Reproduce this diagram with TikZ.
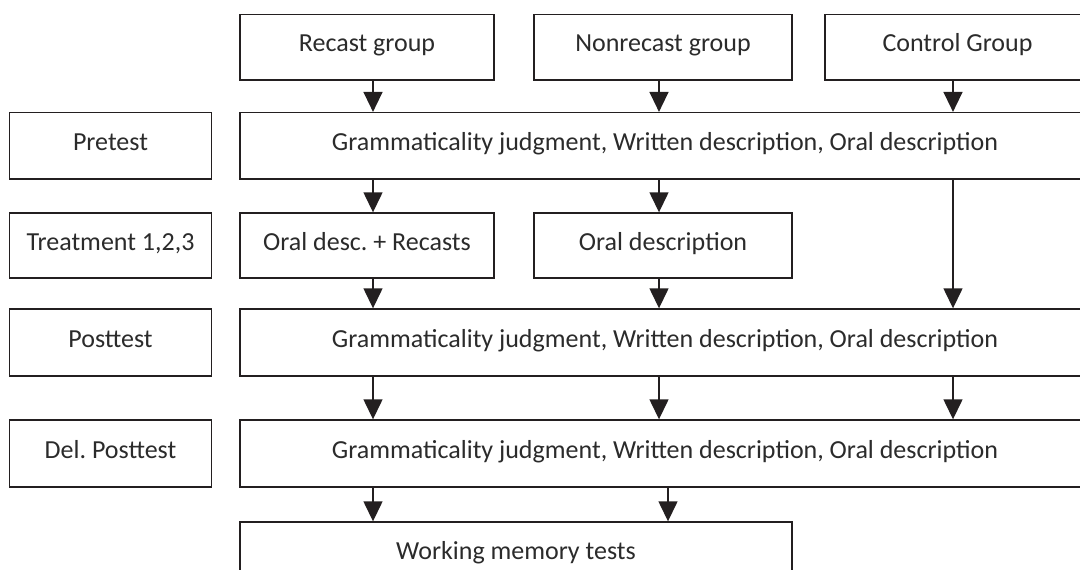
\documentclass[tikz,border=0pt]{standalone}
\usepackage{fontspec}
\setmainfont{Carlito}
\usetikzlibrary{arrows.meta,calc}
\frenchspacing
\definecolor{ink}{HTML}{231F20}
\definecolor{txt}{HTML}{2B2B2B}
\tikzset{
  box/.style={draw=ink, line width=1.4pt, inner sep=0pt, text=txt,
    font=\fontsize{26}{30}\selectfont, text height=16pt, text depth=7pt},
  arr/.style={draw=ink, line width=1.4pt, -{Triangle[length=20pt,width=19pt]}}
}
\begin{document}
\begin{tikzpicture}[x=1pt,y=-1pt]
\useasboundingbox (0,0) rectangle (1080,570);
\clip (0,0) rectangle (1080,570);
\fill[white] (0,0) rectangle (1080,570);
% columns of arrows
\coordinate (xa) at (373,0);
\coordinate (xb) at (659,0);
\coordinate (xc) at (953,0);
\coordinate (xd) at (668,0);
% top row
\node[box, minimum width=254pt, minimum height=65.5pt] (recast) at (367,47.3) {Recast group};
\node[box, minimum width=258pt, minimum height=65.5pt] (nonrecast) at (663,47.3) {Nonrecast group};
\node[box, minimum width=265pt, minimum height=65.5pt] (control) at (957.5,47.3) {Control Group};
% pretest row
\node[box, minimum width=202pt, minimum height=66.4pt] (pretest) at (110.5,145.8) {Pretest};
\node[box, minimum width=850pt, minimum height=66.4pt] (test1) at (665,145.8) {Grammaticality judgment, Written description, Oral description};
% treatment row
\node[box, minimum width=202pt, minimum height=65pt] (treat) at (110.5,245.5) {Treatment 1,2,3};
\node[box, minimum width=254pt, minimum height=65pt] (oralrec) at (367,245.5) {Oral desc. + Recasts};
\node[box, minimum width=258pt, minimum height=65pt] (oral) at (663,245.5) {Oral description};
% posttest row
\node[box, minimum width=202pt, minimum height=67pt] (post) at (110.5,342.5) {Posttest};
\node[box, minimum width=850pt, minimum height=67pt] (test2) at (665,342.5) {Grammaticality judgment, Written description, Oral description};
% delayed posttest row
\node[box, minimum width=202pt, minimum height=67pt] (del) at (110.5,453.5) {Del. Posttest};
\node[box, minimum width=850pt, minimum height=67pt] (test3) at (665,453.5) {Grammaticality judgment, Written description, Oral description};
% working memory
\node[box, minimum width=552pt, minimum height=66pt] (wm) at (516,555) {Working memory tests};
% arrows
\draw[arr] (recast.south -| xa) -- (test1.north -| xa);
\draw[arr] (nonrecast.south -| xb) -- (test1.north -| xb);
\draw[arr] (control.south -| xc) -- (test1.north -| xc);
\draw[arr] (test1.south -| xa) -- (oralrec.north -| xa);
\draw[arr] (test1.south -| xb) -- (oral.north -| xb);
\draw[arr] (test1.south -| xc) -- (test2.north -| xc);
\draw[arr] (oralrec.south -| xa) -- (test2.north -| xa);
\draw[arr] (oral.south -| xb) -- (test2.north -| xb);
\draw[arr] (test2.south -| xa) -- (test3.north -| xa);
\draw[arr] (test2.south -| xb) -- (test3.north -| xb);
\draw[arr] (test2.south -| xc) -- (test3.north -| xc);
\draw[arr] (test3.south -| xa) -- (wm.north -| xa);
\draw[arr] (test3.south -| xd) -- (wm.north -| xd);
\end{tikzpicture}
\end{document}
